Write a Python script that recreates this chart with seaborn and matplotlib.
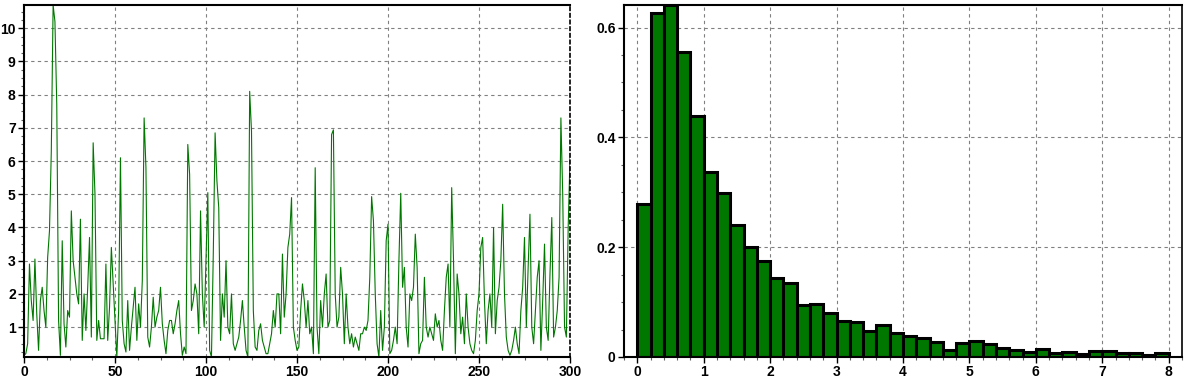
import numpy as np
import pandas as pd
import matplotlib
matplotlib.use("Agg")
import matplotlib.pyplot as plt
from matplotlib.ticker import MultipleLocator
import seaborn as sns

# Left panel: time series (one value per step, 0..300)
series_values = [
    0.15, 0.2, 0.5, 2.9, 1.8, 1.2, 3.05, 1.4, 0.3, 1.8,
    2.2, 1.5, 1.0, 3.1, 3.9, 6.3, 10.7, 10.2, 7.7, 1.2,
    0.15, 3.6, 1.1, 0.4, 1.5, 1.3, 4.5, 3.0, 2.5, 2.0,
    1.7, 4.25, 0.6, 2.0, 0.9, 2.2, 3.7, 0.7, 6.55, 5.0,
    0.6, 1.2, 0.65, 0.65, 0.65, 2.9, 0.6, 1.6, 3.4, 2.3,
    1.2, 0.1, 1.5, 6.1, 1.2, 0.5, 0.25, 1.8, 0.3, 1.0,
    1.6, 2.2, 0.6, 1.7, 1.0, 2.4, 7.3, 5.8, 0.7, 0.4,
    1.0, 1.9, 1.0, 1.3, 1.5, 2.2, 1.1, 0.6, 0.2, 0.9,
    1.2, 1.2, 0.8, 1.1, 1.5, 1.8, 0.8, 0.15, 0.4, 0.2,
    6.5, 5.6, 1.5, 1.8, 2.3, 2.0, 0.8, 4.5, 2.0, 1.0,
    3.0, 5.05, 0.3, 0.1, 3.2, 6.85, 5.4, 4.6, 0.6, 2.0,
    1.3, 3.0, 1.0, 0.8, 2.0, 0.5, 0.3, 0.5, 0.7, 1.2,
    1.8, 1.0, 0.3, 0.1, 8.1, 6.9, 1.5, 0.4, 0.3, 0.9,
    1.1, 0.6, 0.4, 0.2, 0.2, 0.5, 0.8, 1.5, 1.0, 2.0,
    2.0, 0.8, 3.2, 1.3, 2.0, 3.4, 3.8, 4.9, 1.0, 0.6,
    0.3, 0.4, 1.5, 2.3, 1.8, 1.0, 1.8, 0.8, 1.0, 0.2,
    5.8, 1.0, 0.2, 1.8, 1.0, 2.0, 2.6, 1.0, 1.2, 6.8,
    6.94, 2.0, 1.0, 1.3, 2.8, 2.0, 0.5, 2.0, 1.0, 0.5,
    0.8, 0.4, 0.7, 0.5, 0.3, 0.8, 0.8, 1.0, 0.9, 1.2,
    2.5, 4.93, 4.2, 2.0, 0.5, 0.1, 1.5, 0.3, 1.0, 3.6,
    4.1, 0.2, 0.3, 0.6, 1.0, 0.5, 3.0, 5.03, 2.2, 2.8,
    1.0, 0.4, 2.0, 1.8, 2.2, 3.8, 2.8, 0.2, 0.5, 0.6,
    2.5, 1.0, 0.7, 1.0, 0.8, 0.6, 1.4, 1.0, 1.2, 0.6,
    0.3, 1.5, 2.5, 2.9, 1.0, 5.2, 3.0, 0.2, 2.6, 2.0,
    0.8, 1.3, 0.5, 2.0, 1.0, 0.5, 0.3, 0.2, 0.6, 1.5,
    2.0, 3.4, 3.7, 1.8, 0.5, 1.5, 2.0, 1.0, 4.0, 0.8,
    1.8, 2.2, 3.0, 4.7, 2.0, 0.7, 0.3, 0.15, 0.3, 0.6,
    1.0, 0.5, 0.2, 1.5, 2.2, 3.7, 1.0, 2.8, 4.4, 1.0,
    0.5, 1.5, 2.5, 3.0, 0.3, 1.8, 3.5, 1.0, 0.6, 2.6,
    4.3, 0.7, 1.0, 1.5, 2.5, 7.3, 5.0, 1.0, 0.7, 4.0,
    6.1,
]
series_steps = np.arange(len(series_values))

# Right panel: histogram, bins of width 0.2 from 0 to 8
bin_edges = [round(0.2 * k, 1) for k in range(41)]
bin_density = [
    0.279, 0.627, 0.641, 0.556, 0.439, 0.336, 0.298, 0.241, 0.201, 0.175,
    0.143, 0.135, 0.094, 0.096, 0.080, 0.066, 0.063, 0.047, 0.058, 0.044,
    0.038, 0.034, 0.027, 0.013, 0.025, 0.029, 0.023, 0.017, 0.013, 0.010,
    0.015, 0.007, 0.0085, 0.006, 0.011, 0.011, 0.0067, 0.0067, 0.004, 0.0067,
]
hist_df = pd.DataFrame({
    "center": [(a + b) / 2 for a, b in zip(bin_edges[:-1], bin_edges[1:])],
    "density": bin_density,
})

sns.set_style("white")
plt.rcParams['font.family'] = ['Liberation Sans', 'DejaVu Sans']
plt.rcParams['font.weight'] = 'bold'

fig = plt.figure(figsize=(11.93, 3.84), dpi=100)
ax0 = fig.add_axes([24 / 1193, 27 / 384, 546 / 1193, 352 / 384])
ax1 = fig.add_axes([624 / 1193, 27 / 384, 558 / 1193, 352 / 384])

sns.lineplot(x=series_steps, y=series_values, ax=ax0, color="#007800", linewidth=0.8)
ax0.set_xlim(0, 300)
ax0.set_ylim(min(series_values), max(series_values))
ax0.xaxis.set_major_locator(MultipleLocator(50))
ax0.xaxis.set_minor_locator(MultipleLocator(12.5))
ax0.yaxis.set_major_locator(MultipleLocator(1))
ax0.yaxis.set_minor_locator(MultipleLocator(0.25))

sns.histplot(data=hist_df, x="center", weights="density", bins=bin_edges, ax=ax1,
             color="#007800", edgecolor="black", linewidth=2.2, alpha=1)
ax1.set_xlim(-0.2, 8.2)
ax1.set_ylim(0, max(bin_density))
ax1.xaxis.set_major_locator(MultipleLocator(1))
ax1.xaxis.set_minor_locator(MultipleLocator(0.2))
ax1.yaxis.set_minor_locator(MultipleLocator(0.05))
ax1.set_yticks([0, 0.2, 0.4, 0.6])
ax1.set_yticklabels(["0", "0.2", "0.4", "0.6"])

for ax in (ax0, ax1):
    ax.set_xlabel("")
    ax.set_ylabel("")
    ax.set_axisbelow(True)
    ax.grid(True, which="major", color="#808080", linestyle=(0, (3, 3)), linewidth=0.8)
    ax.tick_params(which="major", direction="out", length=4, width=1, colors="black",
                   labelsize=10, pad=2)
    ax.tick_params(which="minor", direction="out", length=2, width=0.8, colors="#606060")
    ax.tick_params(axis="x", which="both", bottom=True)
    ax.tick_params(axis="y", which="both", left=True)
    for lab in ax.get_xticklabels() + ax.get_yticklabels():
        lab.set_fontweight("bold")
    for side in ("left", "bottom", "top"):
        ax.spines[side].set_color("black")
        ax.spines[side].set_linewidth(1.5)
    ax.spines["right"].set_color("black")
    ax.spines["right"].set_linewidth(1.2)

ax0.spines["right"].set_linestyle((0, (2, 2)))

fig.savefig("out.png", dpi=100)
